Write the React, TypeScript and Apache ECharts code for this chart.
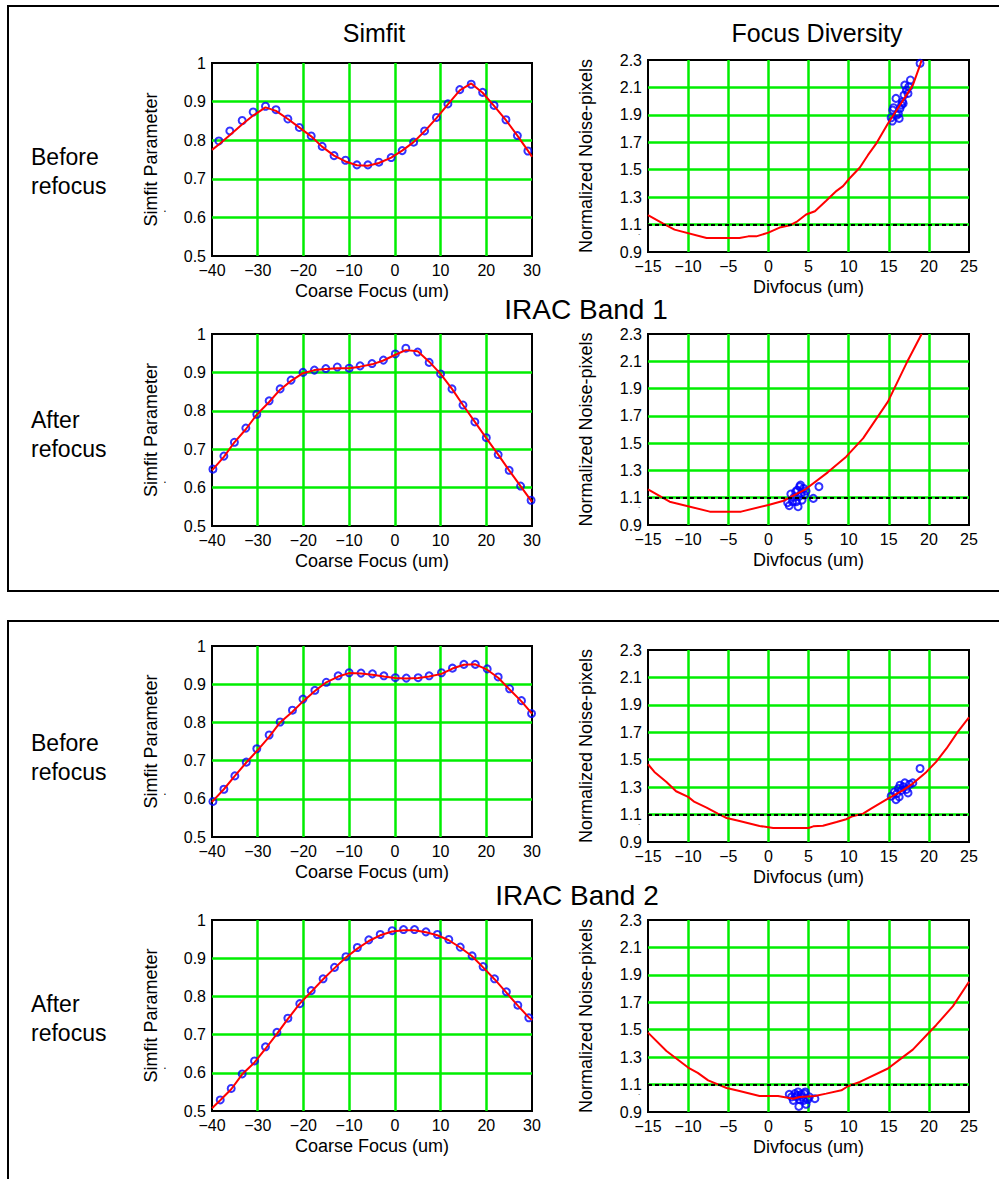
import React, { useEffect, useRef } from "react";
import * as echarts from "echarts";

const FONT = "'Liberation Sans', Arial, Helvetica, sans-serif";

// ---------- Axis ranges / tick labels ----------
const simXRange = [-40, 30];
const simXStep = 10;
const simYRange = [0.5, 1.0];
const simYStep = 0.1;
const divXRange = [-15, 25];
const divXStep = 5;
const divYRange = [0.9, 2.3];
const divYStep = 0.2;
const threshold = 1.1;

const titles = ["Simfit", "Focus Diversity"];
const bandLabels = ["IRAC Band 1", "IRAC Band 2"];
const rowLabels = ["Before\nrefocus", "After\nrefocus", "Before\nrefocus", "After\nrefocus"];
const simXName = "Coarse Focus (um)";
const simYName = "Simfit Parameter";
const divXName = "Divfocus (um)";
const divYName = "Normalized Noise-pixels";

// ---------- Band 1, before refocus ----------
const b1BeforeSimX = [-38.5, -36.1, -33.4, -31.0, -28.3, -26.0, -23.4, -20.9, -18.3, -15.9, -13.3, -10.8, -8.3, -5.9, -3.5, -0.8, 1.6, 4.1, 6.5, 9.1, 11.6, 14.2, 16.7, 19.2, 21.7, 24.3, 26.8, 29.1];
const b1BeforeSimY = [0.798, 0.824, 0.851, 0.873, 0.888, 0.879, 0.855, 0.833, 0.811, 0.784, 0.76, 0.748, 0.736, 0.736, 0.743, 0.755, 0.773, 0.795, 0.824, 0.859, 0.894, 0.931, 0.945, 0.924, 0.89, 0.853, 0.812, 0.772];
const b1BeforeSimFitX = [-40, -38.5, -36, -33.5, -31, -28.3, -26, -23.4, -21, -18.3, -16, -13.3, -10.8, -8.3, -5.9, -3.5, -0.8, 1.6, 4.1, 6.5, 9.1, 11.6, 14.2, 16.7, 19.2, 21.7, 24.3, 26.8, 29.1, 30];
const b1BeforeSimFitY = [0.775, 0.789, 0.814, 0.84, 0.864, 0.885, 0.876, 0.855, 0.834, 0.81, 0.784, 0.76, 0.745, 0.735, 0.734, 0.741, 0.755, 0.773, 0.795, 0.823, 0.857, 0.893, 0.929, 0.947, 0.923, 0.889, 0.852, 0.812, 0.773, 0.757];

const b1BeforeDivX = [15.45, 15.3, 15.5, 15.6, 15.9, 16.0, 16.2, 16.4, 16.6, 16.8, 16.9, 17.0, 17.2, 17.4, 17.5, 17.7, 18.9, 16.7, 16.3];
const b1BeforeDivY = [1.855, 1.879, 1.935, 1.952, 2.02, 1.898, 1.91, 1.947, 1.971, 1.983, 2.044, 2.117, 2.08, 2.056, 2.105, 2.154, 2.276, 1.996, 1.874];
const b1BeforeDivFitX = [-15, -13.1, -11.7, -7.7, -3.6, -2.5, -1.5, 0, 1.4, 2.7, 3.5, 4.7, 5.8, 7.2, 8.5, 9.3, 10.1, 11.4, 12.4, 13.5, 14.9, 16.0, 17.2, 18.0, 18.9, 19.1];
const b1BeforeDivFitY = [1.168, 1.107, 1.063, 1.002, 1.002, 1.014, 1.014, 1.041, 1.078, 1.095, 1.119, 1.173, 1.197, 1.273, 1.346, 1.38, 1.436, 1.516, 1.606, 1.696, 1.837, 1.935, 2.044, 2.117, 2.263, 2.3];

// ---------- Band 1, after refocus ----------
const b1AfterSimX = [-39.8, -37.4, -35.1, -32.6, -30.2, -27.5, -25.1, -22.7, -20.1, -17.6, -15.1, -12.6, -10.0, -7.6, -5.0, -2.5, 0.1, 2.4, 5.0, 7.5, 10.0, 12.5, 14.9, 17.5, 20.0, 22.6, 25.0, 27.5, 29.8];
const b1AfterSimY = [0.648, 0.682, 0.718, 0.755, 0.791, 0.826, 0.857, 0.88, 0.9, 0.906, 0.91, 0.914, 0.911, 0.917, 0.923, 0.932, 0.948, 0.963, 0.953, 0.926, 0.896, 0.857, 0.815, 0.771, 0.73, 0.686, 0.645, 0.604, 0.567];
const b1AfterSimFitX = [-40, -37.4, -35.1, -32.6, -30.2, -27.5, -25.1, -22.7, -20.1, -17.6, -15.1, -12.6, -10, -7.6, -5, -2.5, 0.1, 2.4, 5, 7.5, 10, 12.5, 14.9, 17.5, 20, 22.6, 25, 27.5, 30];
const b1AfterSimFitY = [0.645, 0.68, 0.718, 0.752, 0.79, 0.823, 0.855, 0.878, 0.898, 0.906, 0.909, 0.911, 0.911, 0.915, 0.921, 0.931, 0.946, 0.958, 0.955, 0.928, 0.896, 0.857, 0.815, 0.771, 0.729, 0.686, 0.645, 0.604, 0.563];

const b1AfterDivX = [2.4, 2.6, 2.8, 3.0, 3.2, 3.4, 3.5, 3.6, 3.7, 3.8, 3.9, 4.0, 4.1, 4.2, 4.4, 4.5, 4.7, 5.6, 6.3];
const b1AfterDivY = [1.064, 1.042, 1.127, 1.071, 1.103, 1.144, 1.071, 1.156, 1.034, 1.108, 1.181, 1.193, 1.132, 1.083, 1.168, 1.12, 1.149, 1.095, 1.181];
const b1AfterDivFitX = [-15, -12.3, -7.3, -3.4, 0, 1.8, 4.5, 7.4, 9.7, 11.8, 14.9, 17.2, 19.1];
const b1AfterDivFitY = [1.161, 1.071, 0.998, 0.998, 1.047, 1.076, 1.157, 1.286, 1.401, 1.535, 1.804, 2.085, 2.3];

// ---------- Band 2, before refocus ----------
const b2BeforeSimX = [-39.8, -37.4, -35.0, -32.5, -30.2, -27.5, -25.1, -22.4, -20.1, -17.5, -15.0, -12.4, -10.0, -7.4, -4.9, -2.4, 0.1, 2.5, 5.1, 7.5, 10.2, 12.6, 15.1, 17.6, 20.2, 22.6, 25.1, 27.7, 29.9];
const b2BeforeSimY = [0.593, 0.625, 0.66, 0.696, 0.731, 0.767, 0.801, 0.832, 0.861, 0.884, 0.905, 0.922, 0.93, 0.929, 0.927, 0.922, 0.917, 0.916, 0.917, 0.922, 0.93, 0.942, 0.952, 0.952, 0.94, 0.919, 0.888, 0.857, 0.823];
const b2BeforeSimFitX = [-40, -37.4, -35, -32.5, -30.2, -27.5, -25.1, -22.4, -20.1, -17.5, -15, -12.4, -10, -7.4, -4.9, -2.4, 0.1, 2.5, 5.1, 7.5, 10.2, 12.6, 15.1, 17.6, 20.2, 22.6, 25.1, 27.7, 30];
const b2BeforeSimFitY = [0.592, 0.625, 0.66, 0.695, 0.725, 0.762, 0.8, 0.828, 0.855, 0.882, 0.905, 0.92, 0.929, 0.928, 0.925, 0.92, 0.916, 0.915, 0.916, 0.92, 0.927, 0.941, 0.951, 0.952, 0.938, 0.917, 0.886, 0.855, 0.823];

const b2BeforeDivX = [15.3, 15.7, 15.9, 16.0, 16.2, 16.3, 16.4, 16.6, 16.8, 17.0, 17.2, 17.4, 17.6, 18.0, 18.9];
const b2BeforeDivY = [1.234, 1.265, 1.209, 1.253, 1.29, 1.229, 1.314, 1.278, 1.302, 1.331, 1.283, 1.258, 1.321, 1.331, 1.436];
const b2BeforeDivFitX = [-15, -14.2, -12.7, -11.5, -10, -9.2, -7.7, -6.3, -5.2, -3.6, -1.1, 0.6, 3.1, 5.0, 5.6, 6.8, 8.5, 9.7, 10.5, 11.8, 12.8, 14.9, 16.8, 18.0, 19.7, 20.9, 22.2, 23.6, 25];
const b2BeforeDivFitY = [1.467, 1.411, 1.338, 1.27, 1.229, 1.192, 1.151, 1.107, 1.075, 1.053, 1.017, 1.002, 1.002, 1.002, 1.014, 1.019, 1.046, 1.066, 1.088, 1.107, 1.144, 1.217, 1.278, 1.326, 1.411, 1.484, 1.582, 1.703, 1.808];

// ---------- Band 2, after refocus ----------
const b2AfterSimX = [-38.2, -35.8, -33.4, -30.7, -28.3, -25.8, -23.4, -20.8, -18.3, -15.7, -13.2, -10.7, -8.2, -5.7, -3.2, -0.6, 1.9, 4.3, 6.8, 9.3, 11.8, 14.3, 16.9, 19.3, 21.8, 24.4, 26.9, 29.3];
const b2AfterSimY = [0.529, 0.559, 0.597, 0.631, 0.668, 0.706, 0.743, 0.781, 0.815, 0.846, 0.876, 0.904, 0.928, 0.948, 0.962, 0.972, 0.975, 0.975, 0.969, 0.962, 0.949, 0.929, 0.906, 0.878, 0.846, 0.812, 0.777, 0.744];
const b2AfterSimFitX = [-40, -38.2, -35.8, -33.4, -30.7, -28.3, -25.8, -23.4, -20.8, -18.3, -15.7, -13.2, -10.7, -8.2, -5.7, -3.2, -0.6, 1.9, 4.3, 6.8, 9.3, 11.8, 14.3, 16.9, 19.3, 21.8, 24.4, 26.9, 29.3, 30];
const b2AfterSimFitY = [0.507, 0.528, 0.557, 0.596, 0.627, 0.663, 0.702, 0.741, 0.781, 0.812, 0.845, 0.874, 0.902, 0.925, 0.945, 0.96, 0.97, 0.973, 0.973, 0.968, 0.96, 0.947, 0.928, 0.905, 0.876, 0.845, 0.81, 0.776, 0.745, 0.738];

const b2AfterDivX = [2.6, 2.9, 3.1, 3.3, 3.5, 3.6, 3.7, 3.8, 3.9, 4.1, 4.2, 4.4, 4.5, 4.6, 4.7, 4.9, 5.1, 5.8];
const b2AfterDivY = [1.029, 1.01, 0.985, 1.034, 1.01, 1.022, 1.046, 0.941, 0.99, 1.029, 1.01, 0.985, 1.034, 1.046, 0.956, 0.99, 1.01, 0.997];
const b2AfterDivFitX = [-15, -12.7, -10, -8.8, -7.5, -5.2, -3.6, -1.1, 1.2, 3.1, 3.9, 5.8, 7.2, 9.1, 9.9, 11.4, 14.9, 16.8, 18.0, 19.7, 20.9, 23.0, 25];
const b2AfterDivFitY = [1.479, 1.345, 1.224, 1.185, 1.131, 1.075, 1.053, 1.017, 1.017, 0.997, 1.01, 1.017, 1.034, 1.058, 1.088, 1.119, 1.217, 1.302, 1.355, 1.46, 1.533, 1.672, 1.85];

// ---------- Layout ----------
type Panel = {
  kind: "sim" | "div";
  grid: { left: number; top: number; width: number; height: number };
  px: number[]; py: number[]; fx: number[]; fy: number[];
};

const panels: Panel[] = [
  { kind: "sim", grid: { left: 212, top: 63, width: 320, height: 193 }, px: b1BeforeSimX, py: b1BeforeSimY, fx: b1BeforeSimFitX, fy: b1BeforeSimFitY },
  { kind: "div", grid: { left: 648, top: 60, width: 321, height: 192 }, px: b1BeforeDivX, py: b1BeforeDivY, fx: b1BeforeDivFitX, fy: b1BeforeDivFitY },
  { kind: "sim", grid: { left: 212, top: 334, width: 320, height: 192 }, px: b1AfterSimX, py: b1AfterSimY, fx: b1AfterSimFitX, fy: b1AfterSimFitY },
  { kind: "div", grid: { left: 648, top: 334, width: 321, height: 191 }, px: b1AfterDivX, py: b1AfterDivY, fx: b1AfterDivFitX, fy: b1AfterDivFitY },
  { kind: "sim", grid: { left: 212, top: 646, width: 320, height: 191 }, px: b2BeforeSimX, py: b2BeforeSimY, fx: b2BeforeSimFitX, fy: b2BeforeSimFitY },
  { kind: "div", grid: { left: 648, top: 650, width: 321, height: 192 }, px: b2BeforeDivX, py: b2BeforeDivY, fx: b2BeforeDivFitX, fy: b2BeforeDivFitY },
  { kind: "sim", grid: { left: 212, top: 920, width: 320, height: 191 }, px: b2AfterSimX, py: b2AfterSimY, fx: b2AfterSimFitX, fy: b2AfterSimFitY },
  { kind: "div", grid: { left: 648, top: 920, width: 321, height: 192 }, px: b2AfterDivX, py: b2AfterDivY, fx: b2AfterDivFitX, fy: b2AfterDivFitY },
];

const zip = (a: number[], b: number[]) => a.map((v, i) => [v, b[i]]);
const fmtX = (v: number) => (v < 0 ? "\u2212" + Math.abs(v) : String(v));
const fmtSimY = (v: number) => (Math.abs(v - 1) < 1e-9 ? "1" : v.toFixed(1));
const fmtDivY = (v: number) => v.toFixed(1);

function buildOption() {
  const common = {
    axisLine: { show: false },
    axisTick: { show: false },
    splitLine: {
      show: true,
      showMinLine: false,
      showMaxLine: false,
      lineStyle: { color: "#00ee00", width: 2.5 },
    },
    nameLocation: "middle",
    nameTextStyle: { color: "#000", fontSize: 18, fontFamily: FONT },
  };
  const labelStyle = { color: "#000", fontSize: 16, fontFamily: FONT, margin: 6 };

  const grid = panels.map((p) => ({
    ...p.grid,
    show: true,
    borderColor: "#000",
    borderWidth: 2,
    backgroundColor: "#fff",
    containLabel: false,
    outerBoundsMode: "none",
  }));

  const xAxis = panels.map((p, i) => {
    const sim = p.kind === "sim";
    return {
      ...common,
      type: "value",
      gridIndex: i,
      min: sim ? simXRange[0] : divXRange[0],
      max: sim ? simXRange[1] : divXRange[1],
      interval: sim ? simXStep : divXStep,
      name: sim ? simXName : divXName,
      nameGap: 26,
      axisLabel: { ...labelStyle, formatter: fmtX, showMinLabel: true, showMaxLabel: true },
    };
  });

  const yAxis = panels.map((p, i) => {
    const sim = p.kind === "sim";
    return {
      ...common,
      type: "value",
      gridIndex: i,
      min: sim ? simYRange[0] : divYRange[0],
      max: sim ? simYRange[1] : divYRange[1],
      interval: sim ? simYStep : divYStep,
      name: sim ? simYName : divYName,
      nameGap: sim ? 52 : 53,
      axisLabel: { ...labelStyle, formatter: sim ? fmtSimY : fmtDivY, showMinLabel: true, showMaxLabel: true },
    };
  });

  const series: any[] = [];
  panels.forEach((p, i) => {
    series.push({
      type: "scatter",
      xAxisIndex: i,
      yAxisIndex: i,
      data: zip(p.px, p.py),
      symbol: "circle",
      symbolSize: 7,
      itemStyle: { color: "rgba(0,0,0,0)", borderColor: "#0000ff", borderWidth: 2 },
      z: 3,
      silent: true,
    });
    const line: any = {
      type: "line",
      xAxisIndex: i,
      yAxisIndex: i,
      data: zip(p.fx, p.fy),
      showSymbol: false,
      symbol: "none",
      lineStyle: { color: "#ff0000", width: 2 },
      z: 4,
      silent: true,
    };
    if (p.kind === "div") {
      line.markLine = {
        silent: true,
        symbol: ["none", "none"],
        label: { show: false },
        lineStyle: { color: "#000", type: [4, 3], width: 2 },
        data: [{ yAxis: threshold }],
      };
    }
    series.push(line);
  });

  const txt = (text: string, x: number, y: number, size: number, align = "center", lineHeight?: number) => ({
    type: "text",
    x,
    y,
    silent: true,
    z: 10,
    style: {
      text,
      fill: "#000",
      fontSize: size,
      fontFamily: FONT,
      textAlign: align,
      align,
      textVerticalAlign: "middle",
      verticalAlign: "middle",
      lineHeight: lineHeight || size * 1.2,
    },
  });

  const graphic: any[] = [
    { type: "rect", z: 10, silent: true, shape: { x: 8, y: 6, width: 1100, height: 585 }, style: { fill: "none", stroke: "#000", lineWidth: 2 } },
    { type: "rect", z: 10, silent: true, shape: { x: 8, y: 621, width: 1100, height: 700 }, style: { fill: "none", stroke: "#000", lineWidth: 2 } },
    txt(titles[0], 374, 33, 25),
    txt(titles[1], 817, 33, 25),
    txt(bandLabels[0], 586, 309, 28),
    txt(bandLabels[1], 577, 895, 28),
    txt(rowLabels[0], 31, 171, 23, "left", 29),
    txt(rowLabels[1], 31, 434, 23, "left", 29),
    txt(rowLabels[2], 31, 757, 23, "left", 29),
    txt(rowLabels[3], 31, 1018, 23, "left", 29),
  ];
  panels.forEach((p) => {
    if (p.kind === "sim") graphic.push(txt(".", 165, p.grid.top + 145, 12));
    else graphic.push(txt(".", 639, p.grid.top + p.grid.height - 20, 8));
  });

  return {
    animation: false,
    backgroundColor: "#fff",
    textStyle: { fontFamily: FONT },
    grid,
    xAxis,
    yAxis,
    series,
    graphic,
  };
}

export default function App() {
  const ref = useRef<HTMLDivElement>(null);
  useEffect(() => {
    if (!ref.current) return;
    const chart = echarts.init(ref.current, undefined, { renderer: "svg" });
    chart.setOption(buildOption() as any);
    return () => chart.dispose();
  }, []);
  return (
    <div
      ref={ref}
      style={{ position: "absolute", left: 0, top: 0, width: 999, height: 1179, background: "#fff" }}
    />
  );
}
